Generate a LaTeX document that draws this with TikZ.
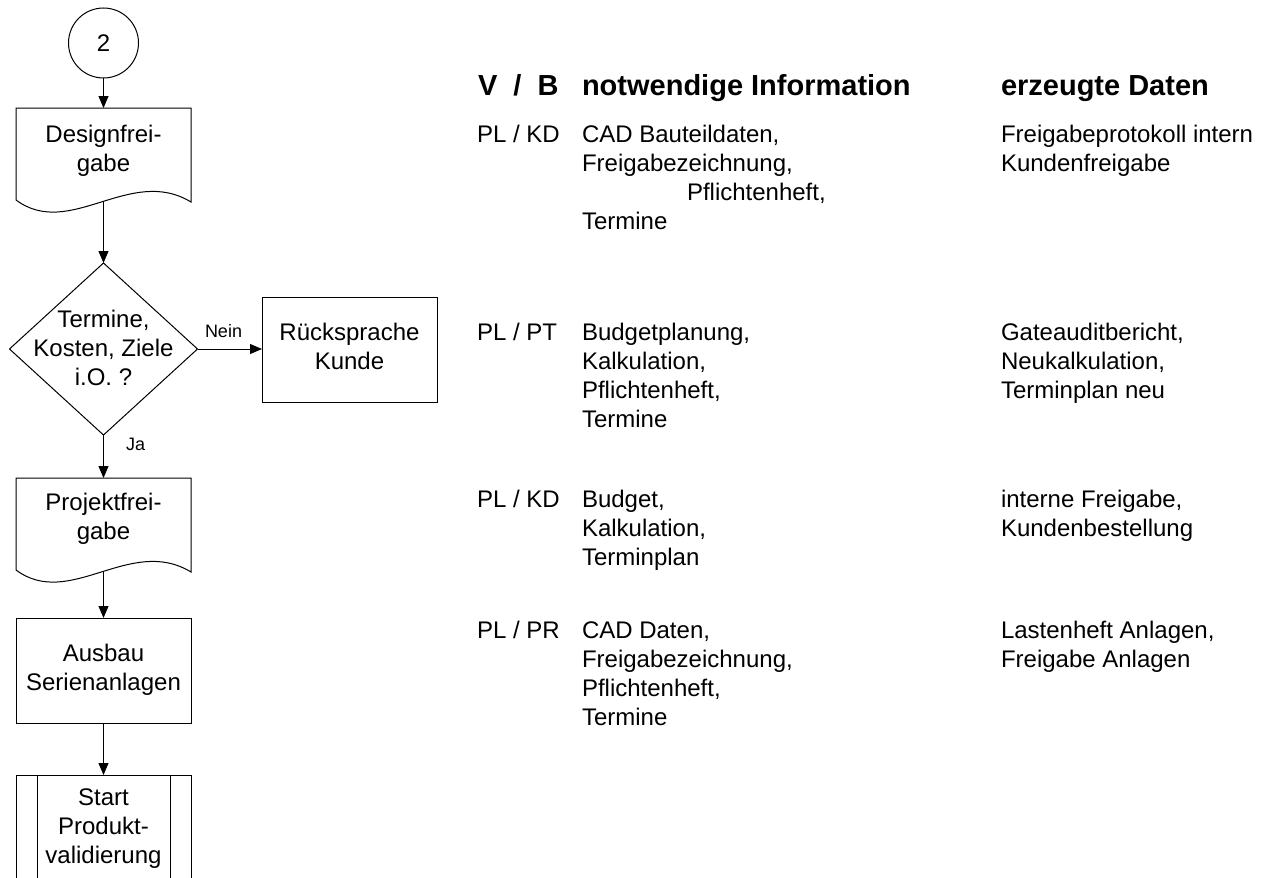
\documentclass[tikz,border=0pt]{standalone}
\usepackage{fontspec}
\setmainfont{Liberation Sans}
\usetikzlibrary{arrows.meta,shapes.geometric,calc}
% multi-line text whose anchor=base is the baseline of the first line
\newcommand\ctrlines[1]{\begin{tabular}[t]{@{}c@{}}#1\end{tabular}}
\newcommand\lftlines[1]{\begin{tabular}[t]{@{}l@{}}#1\end{tabular}}
\begin{document}
\begin{tikzpicture}[x=1pt,y=-1pt,
  line width=1pt,
  every node/.style={inner sep=0pt, outer sep=0pt},
  txt/.style={font=\fontsize{24}{29}\selectfont},
  small/.style={font=\fontsize{18}{22}\selectfont},
  head/.style={font=\bfseries\fontsize{29}{35}\selectfont},
  box/.style={draw, rectangle, minimum width=175pt, minimum height=105pt, txt},
  docshape/.style={rectangle, minimum width=175pt, minimum height=94pt},
  flow/.style={-{Triangle[length=12pt,width=10pt]}},
]
\useasboundingbox (0,0) rectangle (1269,878);
\clip (0,0) rectangle (1269,878);

% ---- flowchart ----
\node[draw, circle, minimum size=70pt, txt] (c) at (103.5,43) {2};

\node[docshape] (dg) at (103.5,155) {};
\draw (dg.north west) -- ($(dg.south west)+(0,-2)$)
  .. controls +(54,40) and +(-61,-37) .. (dg.south east) -- (dg.north east) -- cycle;
\node[txt, anchor=base] (dgt) at (103.5,142) {\ctrlines{Designfrei-\\gabe}};

\node[draw, diamond, minimum width=188pt, minimum height=172pt] (dec) at (103.5,349) {};
\node[txt, anchor=base] (dect) at (103.5,327) {\ctrlines{Termine,\\Kosten, Ziele\\i.O. ?}};

\node[box] (rs) at (349.5,349.5) {\ctrlines{Rücksprache\\Kunde}};

\node[docshape] (pf) at (103.5,525) {};
\draw (pf.north west) -- ($(pf.south west)+(0,-2)$)
  .. controls +(54,40) and +(-61,-37) .. (pf.south east) -- (pf.north east) -- cycle;
\node[txt, anchor=base] (pft) at (103.5,510) {\ctrlines{Projektfrei-\\gabe}};

\node[box] (ab) at (103.5,670.5) {\ctrlines{Ausbau\\Serienanlagen}};

\node[draw, rectangle, minimum width=175pt, minimum height=130pt, anchor=north] (sv) at (103.5,775) {};
\draw ($(sv.north west)+(21,0)$) -- ($(sv.south west)+(21,0)$);
\draw ($(sv.north east)+(-21,0)$) -- ($(sv.south east)+(-21,0)$);
\node[txt, anchor=base] (svt) at (103.5,805) {\ctrlines{Start\\Produkt-\\validierung}};

% connectors
\draw[flow] (c.south) -- (dg.north);
\draw[flow] (dg.south) -- (dec.north);
\draw[flow] (dec.east) -- (dec.east -| rs.west);
\draw[flow] (dec.south) -- (pf.north);
\draw[flow] (pf.south) -- (ab.north);
\draw[flow] (ab.south) -- (sv.north);
\node[small, anchor=base west] (nein) at (205,337) {Nein};
\node[small, anchor=base west] (ja) at (126,450) {Ja};

% ---- table of responsibilities and data ----
\node[head, anchor=base west] (hvb) at (478,95) {V~~/~~B};
\node[head, anchor=base west] (hinfo) at (582,95) {notwendige Information};
\node[head, anchor=base west] (hdata) at (1001,95) {erzeugte Daten};

\node[txt, anchor=base west] (vb1) at (477,142) {PL / KD};
\node[txt, anchor=base west] (in1) at (582,142)
  {\lftlines{CAD Bauteildaten,\\Freigabezeichnung,\\\hspace*{105pt}Pflichtenheft,\\Termine}};
\node[txt, anchor=base west] (da1) at (1001,142)
  {\lftlines{Freigabeprotokoll intern\\Kundenfreigabe}};

\node[txt, anchor=base west] (vb2) at (477,340) {PL / PT};
\node[txt, anchor=base west] (in2) at (582,340)
  {\lftlines{Budgetplanung,\\Kalkulation,\\Pflichtenheft,\\Termine}};
\node[txt, anchor=base west] (da2) at (1001,340)
  {\lftlines{Gateauditbericht,\\Neukalkulation,\\Terminplan neu}};

\node[txt, anchor=base west] (vb3) at (477,507) {PL / KD};
\node[txt, anchor=base west] (in3) at (582,507)
  {\lftlines{Budget,\\Kalkulation,\\Terminplan}};
\node[txt, anchor=base west] (da3) at (1001,507)
  {\lftlines{interne Freigabe,\\Kundenbestellung}};

\node[txt, anchor=base west] (vb4) at (477,638) {PL / PR};
\node[txt, anchor=base west] (in4) at (582,638)
  {\lftlines{CAD Daten,\\Freigabezeichnung,\\Pflichtenheft,\\Termine}};
\node[txt, anchor=base west] (da4) at (1001,638)
  {\lftlines{Lastenheft Anlagen,\\Freigabe Anlagen}};
\end{tikzpicture}
\end{document}
